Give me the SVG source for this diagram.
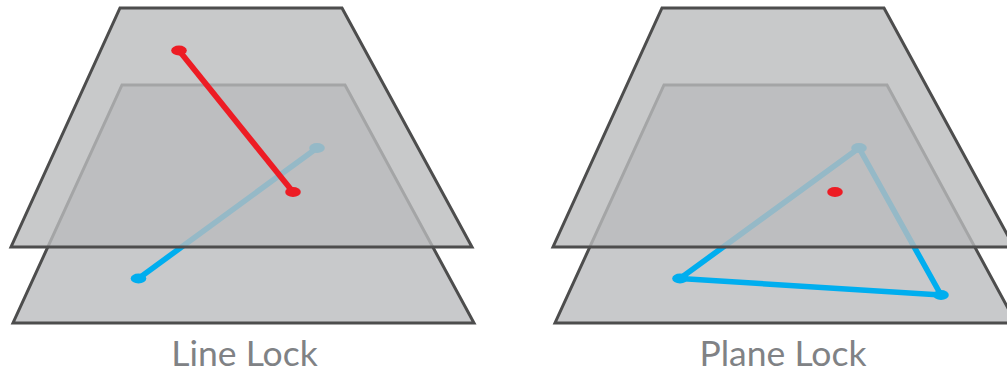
<svg xmlns="http://www.w3.org/2000/svg" width="1007" height="374" viewBox="0 0 1007 374">
<style>
.plane{stroke:#4d4d4d;stroke-width:3;stroke-linejoin:miter}
.low{fill:#c8c9cb}
.up{fill:#babbbd;fill-opacity:.8}
.blue{stroke:#00aeef;stroke-width:5.600;fill:none;stroke-linejoin:round}
.red{stroke:#ed1c24;stroke-width:5.800;fill:none}
.bd{fill:#00aeef}
.rd{fill:#ed1c24}
.lab{font-family:Lato,"Open Sans",sans-serif;font-size:35.500px;fill:#808285;text-anchor:middle}
</style>
<g id="line-lock-lower-plane"><polygon class="plane low" points="122,85 345,85 474,323 13,323"/></g>
<g id="connectors-blue-line">
<path class="blue" d="M138.500,278.500 L317,148"/>
<ellipse class="bd" cx="138.500" cy="278.500" rx="7.800" ry="5"/>
<ellipse class="bd" cx="317" cy="148" rx="7.800" ry="5"/>
</g>
<g id="line-lock-upper-plane"><polygon class="plane up" points="120,8 342,8 472,247 11,247"/></g>
<g id="connectors-red-line">
<path class="red" d="M179,50.500 L293,192"/>
<ellipse class="rd" cx="179" cy="50.500" rx="7.800" ry="5"/>
<ellipse class="rd" cx="293" cy="192" rx="7.800" ry="5"/>
</g>
<g id="line-lock-label"><text class="lab" x="244.500" y="366.300">Line Lock</text></g>

<g id="plane-lock-lower-plane"><polygon class="plane low" points="664,85 887,85 1016,323 555,323"/></g>
<g id="connectors-blue-triangle">
<path class="blue" d="M680,278.500 L859,148 L941,295 Z"/>
<ellipse class="bd" cx="680" cy="278.500" rx="7.800" ry="5"/>
<ellipse class="bd" cx="859" cy="148" rx="7.800" ry="5"/>
<ellipse class="bd" cx="941" cy="295" rx="7.800" ry="5"/>
</g>
<g id="plane-lock-upper-plane"><polygon class="plane up" points="662,8 884,8 1014,247 553,247"/></g>
<g id="plane-lock-point"><ellipse class="rd" cx="835" cy="192" rx="7.800" ry="5"/></g>
<g id="plane-lock-label"><text class="lab" x="783" y="366.300">Plane Lock</text></g>
</svg>
